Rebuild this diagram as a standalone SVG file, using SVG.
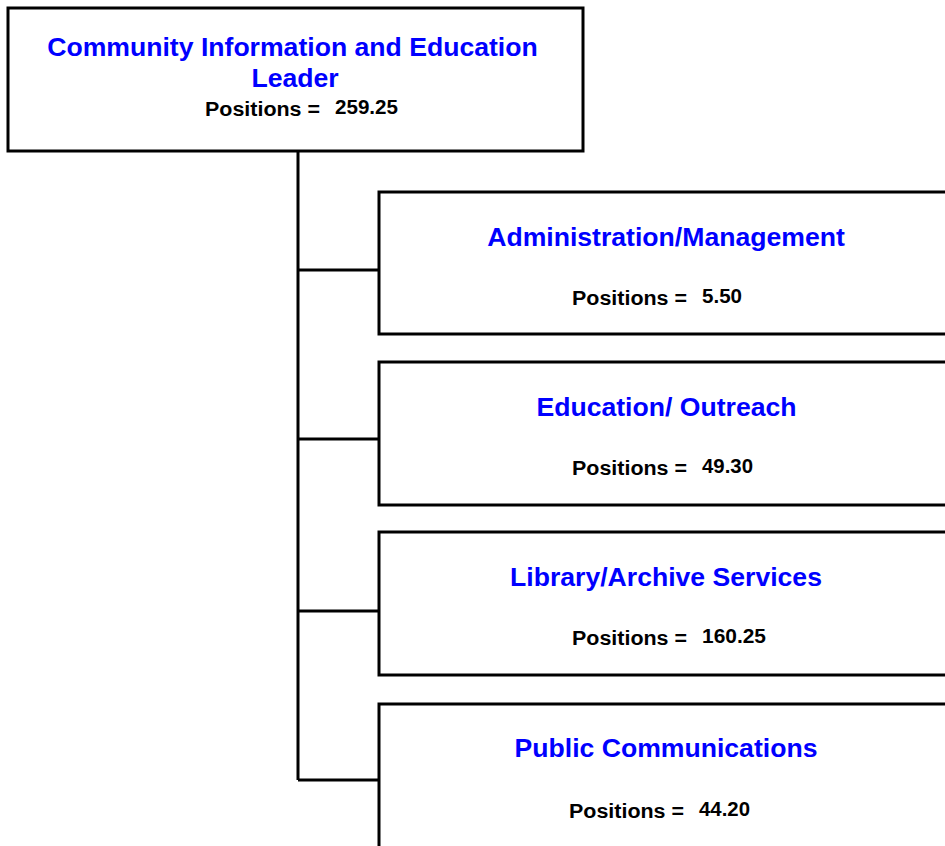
<svg xmlns="http://www.w3.org/2000/svg" width="945" height="846" viewBox="0 0 945 846">
<style>
.box{fill:#fff;stroke:#000;stroke-width:3}
.conn{fill:none;stroke:#000;stroke-width:3}
.title{font-family:"Liberation Sans",Arial,sans-serif;font-weight:bold;font-size:26.6px;fill:#0000ff;text-anchor:middle}
.pos{font-family:"Liberation Sans",Arial,sans-serif;font-weight:bold;font-size:20px;fill:#000}
.num{font-family:"Liberation Sans",Arial,sans-serif;font-weight:bold;font-size:20px;fill:#000}
</style>
<rect width="945" height="846" fill="#fff"/>
<g id="connectors">
<path class="conn" d="M298,151 V780 M298,270 H379 M298,439 H379 M298,611 H379 M298,780 H379"/>
</g>
<g id="leader">
<rect class="box" x="8" y="8" width="575" height="143"/>
<text class="title" x="292.5" y="56">Community Information and Education</text>
<text class="title" x="295" y="87">Leader</text>
<text class="pos" x="205" y="116" textLength="115" lengthAdjust="spacingAndGlyphs">Positions =</text>
<text class="num" x="335" y="114" textLength="63" lengthAdjust="spacingAndGlyphs">259.25</text>
</g>
<g id="admin">
<rect class="box" x="379" y="192" width="574" height="142"/>
<text class="title" x="666" y="246">Administration/Management</text>
<text class="pos" x="572" y="305" textLength="115" lengthAdjust="spacingAndGlyphs">Positions =</text>
<text class="num" x="702" y="303" textLength="40" lengthAdjust="spacingAndGlyphs">5.50</text>
</g>
<g id="education">
<rect class="box" x="379" y="362" width="574" height="143"/>
<text class="title" x="666.5" y="416">Education/ Outreach</text>
<text class="pos" x="572" y="475" textLength="115" lengthAdjust="spacingAndGlyphs">Positions =</text>
<text class="num" x="702" y="473" textLength="51" lengthAdjust="spacingAndGlyphs">49.30</text>
</g>
<g id="library">
<rect class="box" x="379" y="532" width="574" height="143"/>
<text class="title" x="666" y="586">Library/Archive Services</text>
<text class="pos" x="572" y="645" textLength="115" lengthAdjust="spacingAndGlyphs">Positions =</text>
<text class="num" x="702" y="643" textLength="64" lengthAdjust="spacingAndGlyphs">160.25</text>
</g>
<g id="public">
<rect class="box" x="379" y="704" width="574" height="160"/>
<text class="title" x="666" y="757">Public Communications</text>
<text class="pos" x="569" y="818" textLength="115" lengthAdjust="spacingAndGlyphs">Positions =</text>
<text class="num" x="699" y="816" textLength="51" lengthAdjust="spacingAndGlyphs">44.20</text>
</g>
</svg>
